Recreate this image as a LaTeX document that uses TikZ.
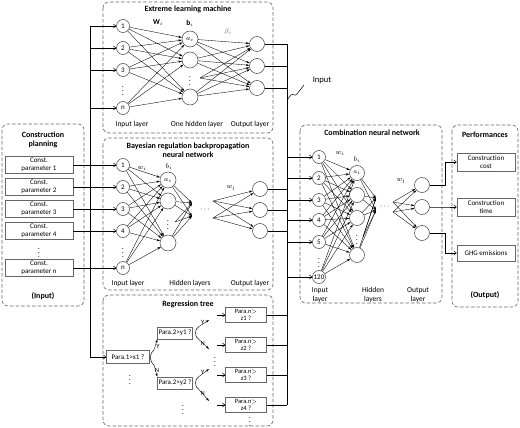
\documentclass[tikz,border=0pt]{standalone}
\usepackage{fontspec}
\setmainfont{Carlito}
\usetikzlibrary{arrows.meta}
\tikzset{
	panel/.style={draw=black!60, line width=0.6pt, dash pattern=on 3.5pt off 2pt, rounded corners=6pt},
	title/.style={font=\bfseries\fontsize{8}{9.5}\selectfont, align=center, inner sep=0pt},
	lbl/.style={font=\fontsize{7.5}{9}\selectfont, align=center, inner sep=0pt},
	dots/.style={font=\fontsize{8}{8}\selectfont, inner sep=0pt},
	neuron/.style={circle, draw=black!75, line width=0.5pt, inner sep=0pt, font=\fontsize{7}{7}\selectfont},
	txtbox/.style={draw=black!60, line width=0.5pt, align=center, inner xsep=1pt, inner ysep=0pt, font=\fontsize{7}{8}\selectfont},
	feed/.style={-{Straight Barb[length=2.5pt,width=4pt]}, line width=0.5pt},
	link/.style={-{Stealth[length=3.5pt,width=2.2pt]}, line width=0.35pt},
	wire/.style={line width=0.5pt}
}
\begin{document}
\begin{tikzpicture}[x=1pt, y=-1pt]
	\useasboundingbox (0,0) rectangle (520,428);
	
	%panels
	\draw[panel] (2,124) rectangle (84,306);
	\draw[panel] (103,2) rectangle (273,133);
	\draw[panel] (103,138) rectangle (273,290);
	\draw[panel] (103,295) rectangle (273,426);
	\draw[panel] (300,125) rectangle (442,303);
	\draw[panel] (452,125) rectangle (518,307);
	
	%construction planning
	\node (plan) at (43,140) [title]{Construction\\planning};
	\node (planin) at (43,296) [title]{(Input)};
	\foreach \n/\y in {1/165, 2/187, 3/209, 4/231, n/268}{
		\node (p\n) at (39,\y) [txtbox, minimum width=68, minimum height=17]{Const.\\parameter \n};
	}
	\node (pd) at (39,250) [dots]{$\vdots$};
	
	%extreme learning machine
	\node (elm) at (188,9) [title]{Extreme learning machine};
	\foreach \n/\y in {1/26, 2/48, 3/70, n/108}{
		\node (ei\n) at (123,\y) [neuron, minimum size=13]{\n};
	}
	\node (eid) at (123,88) [dots]{$\vdots$};
	\node (eh1) at (190,39) [neuron, minimum size=16]{$a_i$};
	\node (eh2) at (190,60) [neuron, minimum size=16]{};
	\node (eh4) at (190,97) [neuron, minimum size=16]{};
	\node (ehd) at (190,78) [dots]{$\vdots$};
	\coordinate (ehx) at (200,78);
	\foreach \o/\y in {1/44, 2/66, 3/88}{
		\node (eo\o) at (257,\y) [neuron, minimum size=15]{};
	}
	\foreach \n in {1,2,3,n}{
		\foreach \h in {1,2,4}{
			\draw[link] (ei\n) -- (eh\h);
		}
	}
	\foreach \o in {1,2,3}{
		\foreach \h in {eh1,eh2,eh4,ehx}{
			\draw[link] (\h) -- (eo\o);
		}
	}
	\node (ew) at (158,23) [lbl]{$\mathbf{W}_i$};
	\node (eb) at (190,23) [lbl]{$\mathbf{b}_i$};
	\node (ebeta) at (228,32) [lbl, text=black!60]{$\beta_i$};
	\node (el1) at (132,125) [lbl]{Input layer};
	\node (el2) at (197,125) [lbl]{One hidden layer};
	\node (el3) at (250,125) [lbl]{Output layer};
	
	%bayesian regulation backpropagation neural network
	\node (brb) at (188,150) [title]{Bayesian regulation backpropagation\\neural network};
	\foreach \n/\y in {1/165, 2/187, 3/209, 4/231, n/268}{
		\node (bi\n) at (123,\y) [neuron, minimum size=13]{\n};
	}
	\node (bid) at (123,250) [dots]{$\vdots$};
	\node (bh1) at (168,180) [neuron, minimum size=16]{$a_i$};
	\node (bh2) at (168,201) [neuron, minimum size=16]{};
	\node (bh4) at (168,243) [neuron, minimum size=16]{};
	\node (bhd) at (168,222) [dots]{$\vdots$};
	\coordinate (bhx) at (175,222);
	\coordinate (bc1) at (192,203);
	\coordinate (bc2) at (192,216);
	\node (bdots) at (205,210) [dots]{$\cdots$};
	\coordinate (bf1) at (213,201);
	\coordinate (bf2) at (213,218);
	\foreach \o/\y in {1/189, 2/210, 3/231}{
		\node (bo\o) at (260,\y) [neuron, minimum size=15]{};
	}
	\foreach \n in {1,2,3,4,n}{
		\foreach \h in {1,2,4}{
			\draw[link] (bi\n) -- (bh\h);
		}
	}
	\foreach \h in {bh1,bh2,bh4,bhx}{
		\draw[link] (\h) -- (bc1);
		\draw[link] (\h) -- (bc2);
	}
	\foreach \o in {1,2,3}{
		\draw[link] (bf1) -- (bo\o);
		\draw[link] (bf2) -- (bo\o);
	}
	\node (bw) at (142,168) [lbl]{$w_i$};
	\node (bb) at (169,167) [lbl]{$b_i$};
	\node (bwl) at (231,188) [lbl]{$w_l$};
	\node (bl1) at (128,283) [lbl]{Input layer};
	\node (bl2) at (190,283) [lbl]{Hidden layers};
	\node (bl3) at (250,283) [lbl]{Output layer};
	
	%regression tree
	\node (rgt) at (188,304) [title]{Regression tree};
	\node (rt1) at (128,357) [txtbox, minimum width=43, minimum height=13]{Para.1>x1 ?};
	\node (rt2) at (175,333) [txtbox, minimum width=33, minimum height=12]{Para.2>y1 ?};
	\node (rt3) at (175,383) [txtbox, minimum width=33, minimum height=12]{Para.2>y2 ?};
	\foreach \z/\y in {1/315, 2/345, 3/375, 4/405}{
		\node (z\z) at (246,\y) [txtbox, minimum width=41, minimum height=15, font=\fontsize{6.5}{7}\selectfont]{Para.n$>$\\z\z\ ?};
	}
	\node (rtd1) at (130,377) [dots]{$\vdots$};
	\node (rtd2) at (183,407) [dots]{$\vdots$};
	\node (rtd3) at (215,359) [dots]{$\vdots$};
	\node (rtd4) at (250,419) [dots]{$\vdots$};
	%splits
	\coordinate (s1t) at (154,350);
	\coordinate (s1b) at (154,365);
	\draw[wire] (s1t) .. controls (150,353) and (151,357) .. (150,357.5) .. controls (151,358) and (150,362) .. (s1b);
	\draw[link] (s1t) -- (rt2.south west);
	\draw[link] (s1b) -- (rt3.north west);
	\node (y1) at (158,346) [lbl, font=\fontsize{6.5}{7}\selectfont]{Y};
	\node (n1) at (157,370) [lbl, font=\fontsize{6.5}{7}\selectfont]{N};
	\foreach \r/\t/\b in {rt2/320/349, rt3/369/401}{
		\draw[wire] ([xshift=6]\r.north east) .. controls +(-3,3) and +(0,-3) .. ([xshift=3]\r.east) .. controls +(0,3) and +(-3,-3) .. ([xshift=6]\r.south east);
		\coordinate (\r up) at (209,\t);
		\coordinate (\r dn) at (209,\b);
		\draw[link] ([xshift=6]\r.north east) -- (\r up);
		\draw[link] ([xshift=6]\r.south east) -- (\r dn);
		\node at ([xshift=10,yshift=4]\r.north east) [lbl, font=\fontsize{6.5}{7}\selectfont]{Y};
		\node at ([xshift=10,yshift=-4]\r.south east) [lbl, font=\fontsize{6.5}{7}\selectfont]{N};
	}
	\foreach \z in {1,2,3,4}{
		\coordinate (za\z) at (217,0);
		\draw[feed] (z\z -| za\z) -- (z\z);
	}
	
	%input buses
	\coordinate (busL) at (90,26);
	\draw[wire] (busL) -- (busL |- rt1);
	\foreach \n in {1,2,3,n}{
		\draw[feed] (ei\n -| busL) -- (ei\n);
	}
	\foreach \n in {1,2,3,4,n}{
		\draw[feed] (p\n.east) -- (bi\n);
	}
	\draw[feed] (rt1 -| busL) -- (rt1);
	
	\coordinate (busR) at (287,44);
	\draw[wire] (busR) -- (busR |- z4);
	\foreach \o in {1,2,3}{
		\draw[wire] (eo\o) -- (eo\o -| busR);
		\draw[wire] (bo\o) -- (bo\o -| busR);
	}
	\foreach \z in {1,2,3,4}{
		\draw[wire] (z\z) -- (z\z -| busR);
	}
	\coordinate (inp) at (287,100);
	\node (inlbl) at (322,80) [lbl, font=\fontsize{8.5}{9}\selectfont]{Input};
	\draw[wire] (inp) -- ++(4,-5) .. controls +(2,-2) and +(-2,3) .. ++(6,-1) -- ++(7,-9);
	
	%combination neural network
	\node (cnn) at (372,133) [title]{Combination neural network};
	\foreach \n/\t/\y in {1/1/157, 2/2/178, 3/3/200, 4/4/220, 5/5/242, 6/120/277}{
		\node (ci\n) at (319,\y) [neuron, minimum size=13]{\t};
		\draw[feed] (ci\n -| busR) -- (ci\n);
	}
	\node (cid) at (319,260) [dots]{$\vdots$};
	\node (ch1) at (357,173) [neuron, minimum size=15]{\fontsize{6}{6}\selectfont$a_i$};
	\node (ch2) at (357,195) [neuron, minimum size=15]{};
	\node (ch3) at (357,218) [neuron, minimum size=15]{};
	\node (ch5) at (357,255) [neuron, minimum size=15]{};
	\node (chd) at (357,237) [dots]{$\vdots$};
	\coordinate (chx) at (363,237);
	\coordinate (cc1) at (376,198);
	\coordinate (cc2) at (376,210);
	\node (cdots) at (385,207) [dots]{$\cdots$};
	\coordinate (cf1) at (393,202);
	\coordinate (cf2) at (393,212);
	\foreach \o/\y in {1/185, 2/207, 3/233}{
		\node (co\o) at (422,\y) [neuron, minimum size=15]{};
	}
	\foreach \n in {1,...,6}{
		\foreach \h in {1,2,3,5}{
			\draw[link] (ci\n) -- (ch\h);
		}
	}
	\foreach \h in {ch1,ch2,ch3,ch5,chx}{
		\draw[link] (\h) -- (cc1);
		\draw[link] (\h) -- (cc2);
	}
	\foreach \o in {1,2,3}{
		\draw[link] (cf1) -- (co\o);
		\draw[link] (cf2) -- (co\o);
	}
	\node (cw) at (340,153) [lbl]{$w_i$};
	\node (cb) at (357,160) [lbl]{$b_i$};
	\node (cwl) at (401,181) [lbl]{$w_l$};
	\node (cl1) at (320,295) [lbl]{Input\\layer};
	\node (cl2) at (373,295) [lbl]{Hidden\\layers};
	\node (cl3) at (418,295) [lbl]{Output\\layer};
	
	%performances
	\node (perf) at (485,135) [title]{Performances};
	\node (perfout) at (485,295) [title]{(Output)};
	\node (pf1) at (486,162) [txtbox, minimum width=58, minimum height=18]{Construction\\cost};
	\node (pf2) at (486,207) [txtbox, minimum width=58, minimum height=18]{Construction\\time};
	\node (pf3) at (486,253) [txtbox, minimum width=58, minimum height=16]{GHG emissions};
	\coordinate (busP) at (445,185);
	\foreach \o in {1,2,3}{
		\draw[feed] (co\o) -- (co\o -| busP) |- (pf\o);
	}
\end{tikzpicture}
\end{document}
